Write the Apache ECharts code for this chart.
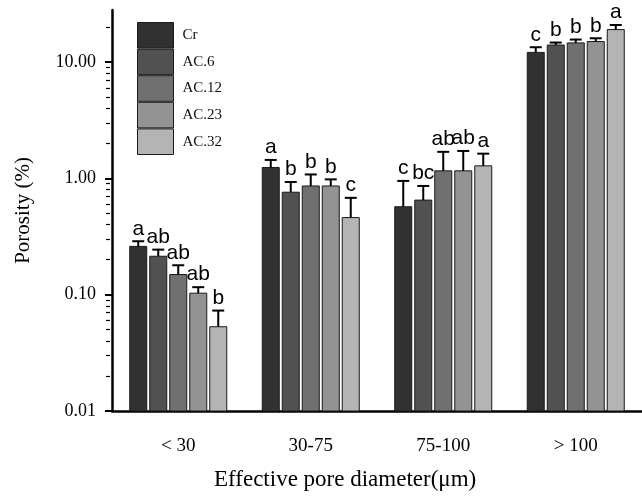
<!DOCTYPE html>
<html>
<head>
<meta charset="utf-8">
<script src="https://cdn.jsdelivr.net/npm/echarts@6/dist/echarts.min.js"></script>
<style>
  html, body { margin: 0; padding: 0; background: #fff; }
  #main { width: 642px; height: 500px; }
</style>
</head>
<body>
<div id="main"></div>
<script>
// 孔径分组
var categories = ["< 30", "30-75", "75-100", "> 100"];
var seriesNames = ["Cr", "AC.6", "AC.12", "AC.23", "AC.32"];
// 各处理的孔隙度均值 (%)
var crVals = [0.26, 1.24, 0.57, 12.1];
var ac6Vals = [0.214, 0.76, 0.65, 14.0];
var ac12Vals = [0.149, 0.86, 1.16, 14.6];
var ac23Vals = [0.103, 0.86, 1.16, 15.0];
var ac32Vals = [0.053, 0.46, 1.28, 19.0];
// 标准差 (只画上半)
var crSd = [0.028, 0.20, 0.38, 1.3];
var ac6Sd = [0.030, 0.17, 0.21, 0.7];
var ac12Sd = [0.030, 0.22, 0.53, 1.0];
var ac23Sd = [0.013, 0.12, 0.56, 1.0];
var ac32Sd = [0.020, 0.22, 0.35, 1.8];
// 显著性字母
var crSig = ["a", "a", "c", "c"];
var ac6Sig = ["ab", "b", "bc", "b"];
var ac12Sig = ["ab", "b", "ab", "b"];
var ac23Sig = ["ab", "b", "ab", "b"];
var ac32Sig = ["b", "c", "a", "a"];
// y轴刻度
var yMin = 0.01;
var yMax = 28;
var majorTicks = [0.01, 0.1, 1, 10];
var minorTicks = [0.02, 0.03, 0.04, 0.05, 0.06, 0.07, 0.08, 0.09,
  0.2, 0.3, 0.4, 0.5, 0.6, 0.7, 0.8, 0.9,
  2, 3, 4, 5, 6, 7, 8, 9, 20];

var allVals = [crVals, ac6Vals, ac12Vals, ac23Vals, ac32Vals];
var allSd = [crSd, ac6Sd, ac12Sd, ac23Sd, ac32Sd];
var allSig = [crSig, ac6Sig, ac12Sig, ac23Sig, ac32Sig];
var colorList = ["#313131", "#515151", "#707070", "#939393", "#b4b4b4"];

var serif = "Liberation Serif";
var gridW = 532;
var barW = 17; // 柱宽
var pitch = 20; // 柱间距
var myChart = echarts.init(document.getElementById("main"));

// log轴上 bar 从1开始画, 所以用 custom 自己画柱子+误差线+字母
var series = [];
seriesNames.forEach(function (name, i) {
  var data = allVals[i].map(function (v, k) {
    return [k, v, allSd[i][k]];
  });
  series.push({
    type: "custom",
    name: name,
    data: data,
    itemStyle: { color: colorList[i], borderColor: "#1a1a1a", borderWidth: 1 },
    renderItem: function (params, api) {
      var k = api.value(0);
      var mean = api.value(1);
      var top = mean + api.value(2);
      var pb = api.coord([k, yMin]);
      var p0 = api.coord([k, mean]);
      var p1 = api.coord([k, top]);
      var x = pb[0] + (i - 2) * pitch;
      return {
        type: "group",
        children: [
          {
            type: "rect",
            shape: { x: x - barW / 2, y: p0[1], width: barW, height: pb[1] - p0[1] },
            style: { fill: colorList[i], stroke: "#1a1a1a", lineWidth: 1 },
          },
          { type: "line", shape: { x1: x, y1: p0[1], x2: x, y2: p1[1] }, style: { stroke: "#000", lineWidth: 2 } },
          { type: "line", shape: { x1: x - 6, y1: p1[1], x2: x + 6, y2: p1[1] }, style: { stroke: "#000", lineWidth: 2 } },
          {
            type: "text",
            style: {
              x: x, y: p1[1] - 2,
              text: allSig[i][params.dataIndex],
              fill: "#000",
              font: "21px 'Liberation Sans'",
              textAlign: "center",
              textVerticalAlign: "bottom",
            },
          },
        ],
      };
    },
  });
});

var legendData = seriesNames.map(function (name, i) {
  return { name: name, itemStyle: { color: colorList[i], borderColor: "#1a1a1a", borderWidth: 1 } };
});

var option = {
  animation: false,
  grid: { left: 112, top: 10, width: gridW, bottom: 89 },
  legend: {
    orient: "vertical",
    left: 137,
    top: 22,
    padding: 0,
    itemWidth: 36,
    itemHeight: 25.6,
    itemGap: 0,
    icon: "rect",
    data: legendData,
    textStyle: { fontFamily: serif, fontSize: 15, color: "#111", padding: [0, 0, 0, 4] },
  },
  xAxis: {
    type: "category",
    data: categories,
    axisLine: { lineStyle: { color: "#000", width: 2.5 } },
    axisTick: { alignWithLabel: true, length: 5, lineStyle: { color: "#000", width: 1.5 } },
    axisLabel: { color: "#000", fontFamily: serif, fontSize: 19, margin: 26 },
  },
  yAxis: [
    {
      type: "log",
      logBase: 10,
      min: yMin,
      max: yMax,
      name: "Porosity (%)",
      nameLocation: "middle",
      nameGap: 78,
      nameTextStyle: { fontFamily: serif, fontSize: 21, color: "#000" },
      axisLine: { show: true, lineStyle: { color: "#000", width: 2.5 } },
      axisTick: { show: true, length: 7, customValues: majorTicks, lineStyle: { color: "#000", width: 2 } },
      axisLabel: {
        color: "#000",
        fontFamily: serif,
        fontSize: 18,
        margin: 16,
        customValues: majorTicks,
        formatter: function (v) {
          return v.toFixed(2);
        },
      },
      splitLine: { show: false },
    },
    {
      // 次刻度: 放右边再平移到左轴, 刻度朝外
      type: "log",
      logBase: 10,
      min: yMin,
      max: yMax,
      position: "right",
      offset: -gridW,
      axisLine: { show: false },
      axisTick: { show: true, inside: true, length: 4, customValues: minorTicks, lineStyle: { color: "#000", width: 1.2 } },
      axisLabel: { show: false },
      splitLine: { show: false },
    },
  ],
  graphic: [
    {
      type: "text",
      left: 364 - 150,
      top: 468,
      style: {
        text: "Effective pore diameter(μm)",
        font: "23px 'Liberation Serif'",
        fill: "#000",
        width: 300,
        textAlign: "center",
      },
    },
  ],
  series: series,
};
myChart.setOption(option);
</script>
</body>
</html>
